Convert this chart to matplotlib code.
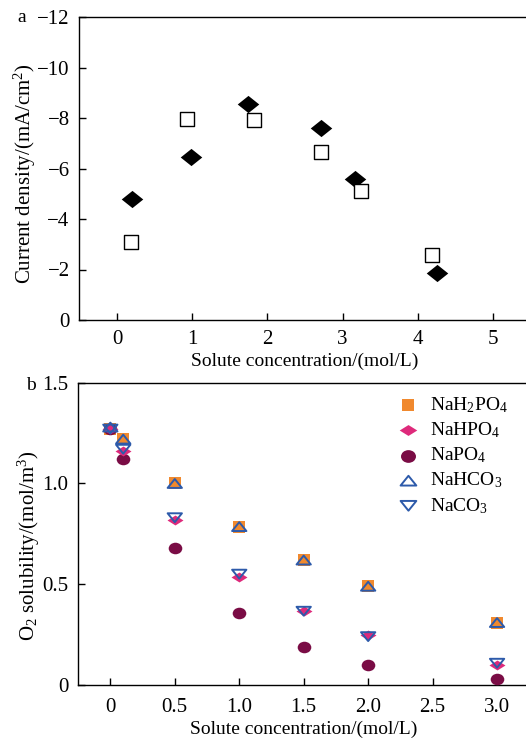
import matplotlib
matplotlib.use("Agg")
import matplotlib.pyplot as plt
import numpy as np
from matplotlib.path import Path

plt.rcParams['font.family'] = ['Liberation Serif', 'DejaVu Serif']
plt.rcParams['mathtext.fontset'] = 'custom'
plt.rcParams['mathtext.rm'] = 'Liberation Serif'
plt.rcParams['mathtext.it'] = 'Liberation Serif:italic'
plt.rcParams['axes.unicode_minus'] = True

# ---- Panel a data ----
a_diamond_x = [0.2, 0.98, 1.74, 2.71, 3.17, 4.25]
a_diamond_y = [-4.78, -6.47, -8.55, -7.6, -5.58, -1.85]
a_square_x = [0.18, 0.93, 1.82, 2.71, 3.24, 4.19]
a_square_y = [-3.09, -7.97, -7.92, -6.64, -5.1, -2.59]
a_xticks = [0, 1, 2, 3, 4, 5]
a_yticks = [0, -2, -4, -6, -8, -10, -12]

# ---- Panel b data ----
b_x = [0, 0.1, 0.5, 1.0, 1.5, 2.0, 3.0]
nah2po4 = [1.27, 1.22, 1.0, 0.785, 0.62, 0.49, 0.31]
nahpo4 = [1.27, 1.16, 0.82, 0.537, 0.369, 0.247, 0.10]
napo4 = [1.27, 1.12, 0.678, 0.356, 0.189, 0.098, 0.031]
nahco3 = [1.28, 1.22, 1.0, 0.786, 0.62, 0.49, 0.31]
naco3 = [1.27, 1.17, 0.83, 0.55, 0.366, 0.24, 0.108]
b_xticks = [0, 0.5, 1.0, 1.5, 2.0, 2.5, 3.0]
b_xticklabels = ['0', '0.5', '1.0', '1.5', '2.0', '2.5', '3.0']
b_yticks = [0, 0.5, 1.0, 1.5]
b_yticklabels = ['0', '0.5', '1.0', '1.5']

# custom flattened markers
def poly(pts):
    pts = list(pts) + [pts[0]]
    codes = [Path.MOVETO] + [Path.LINETO] * (len(pts) - 2) + [Path.CLOSEPOLY]
    return Path(pts, codes)

diamond_a = poly([(-1, 0), (0, 0.8), (1, 0), (0, -0.8)])
diamond_b = poly([(-1, 0), (0, 0.62), (1, 0), (0, -0.62)])
tri_up = poly([(-1, -0.62), (1, -0.62), (0, 0.62)])
tri_down = poly([(-1, 0.62), (1, 0.62), (0, -0.62)])
circ = Path.unit_circle()
ellipse = Path(circ.vertices * np.array([1.0, 0.85]), circ.codes)
rect_b = poly([(-1, -1), (1, -1), (1, 1), (-1, 1)])

W, H = 526, 740
fig = plt.figure(figsize=(W / 100, H / 100), dpi=100)

fs_tick = 15
fs_lab = 14
lw_axis = 1.0

# ---------- Panel a ----------
ax1 = fig.add_axes([79.4 / W, (H - 320) / H, 451.2 / W, 303 / H])
ax1.scatter(a_diamond_x, a_diamond_y, marker=diamond_a, s=15.5**2, color='black', zorder=3, linewidths=0)
ax1.scatter(a_square_x, a_square_y, marker='s', s=9.6**2, facecolor='white', edgecolor='black',
            linewidths=1.0, zorder=3)
ax1.set_xlim(-0.5, 5.5)
ax1.set_ylim(0, -12)
ax1.set_xticks(a_xticks)
ax1.set_xticklabels([str(v) for v in a_xticks])
ax1.set_yticks(a_yticks)
ax1.set_yticklabels(['0'] + ['\u2212' + str(-v) for v in a_yticks[1:]])
ax1.tick_params(direction='in', length=5, width=1, labelsize=fs_tick)
ax1.tick_params(axis='x', pad=7)
ax1.tick_params(axis='y', pad=7)
ax1.tick_params(top=False, right=False)
ax1.set_xlabel('Solute concentration/(mol/L)', fontsize=fs_lab, labelpad=3)
ax1.set_ylabel('Current density/(mA/cm$^2$)', fontsize=15)
ax1.yaxis.set_label_coords(-0.092, 0.482)
for s in ax1.spines.values():
    s.set_linewidth(lw_axis)
fig.text(22 / W, 1 - 17 / H, 'a', fontsize=fs_lab, ha='center', va='center')

# ---------- Panel b ----------
ax2 = fig.add_axes([78.1 / W, (H - 685) / H, 451.2 / W, 302.3 / H])
ax2.scatter(b_x, nah2po4, marker=rect_b, s=8.2**2, color='#F0892E', linewidths=0, zorder=3,
            label='NaH$_2$PO$_4$')
ax2.scatter(b_x, nahpo4, marker=diamond_b, s=11.5**2, color='#DE2A7B', linewidths=0, zorder=4,
            label='NaHPO$_4$')
ax2.scatter(b_x, napo4, marker=ellipse, s=9.8**2, color='#7A0C45', linewidths=0, zorder=3,
            label='NaPO$_4$')
ax2.scatter(b_x, nahco3, marker=tri_up, s=10.3**2, facecolor='none', edgecolor='#2D5AAA',
            linewidths=1.4, zorder=5, label='NaHCO$_3$')
ax2.scatter(b_x, naco3, marker=tri_down, s=10.3**2, facecolor='none', edgecolor='#2D5AAA',
            linewidths=1.4, zorder=6, label='NaCO$_3$')
ax2.set_xlim(-0.25, 3.25)
ax2.set_ylim(0, 1.5)
ax2.set_xticks(b_xticks)
ax2.set_xticklabels(b_xticklabels)
ax2.set_yticks(b_yticks)
ax2.set_yticklabels(b_yticklabels)
ax2.tick_params(direction='in', length=5, width=1, labelsize=fs_tick)
ax2.tick_params(axis='x', pad=9)
ax2.tick_params(axis='y', pad=7)
ax2.tick_params(top=False, right=False)
ax2.set_xlabel('Solute concentration/(mol/L)', fontsize=fs_lab, labelpad=3)
ax2.set_ylabel('O$_2$ solubility/(mol/m$^3$)', fontsize=15)
ax2.yaxis.set_label_coords(-0.080, 0.46)
for s in ax2.spines.values():
    s.set_linewidth(lw_axis)
leg = ax2.legend(loc='upper left', bbox_to_anchor=(308 / 451.2, 1.0), frameon=False, fontsize=fs_lab,
                 handletextpad=0.6, labelspacing=0.28, borderaxespad=0.25, handlelength=1.0,
                 markerscale=1.1)
fig.text(31 / W, 1 - 386 / H, 'b', fontsize=fs_lab, ha='center', va='center')

fig.savefig('out.png', dpi=100)
